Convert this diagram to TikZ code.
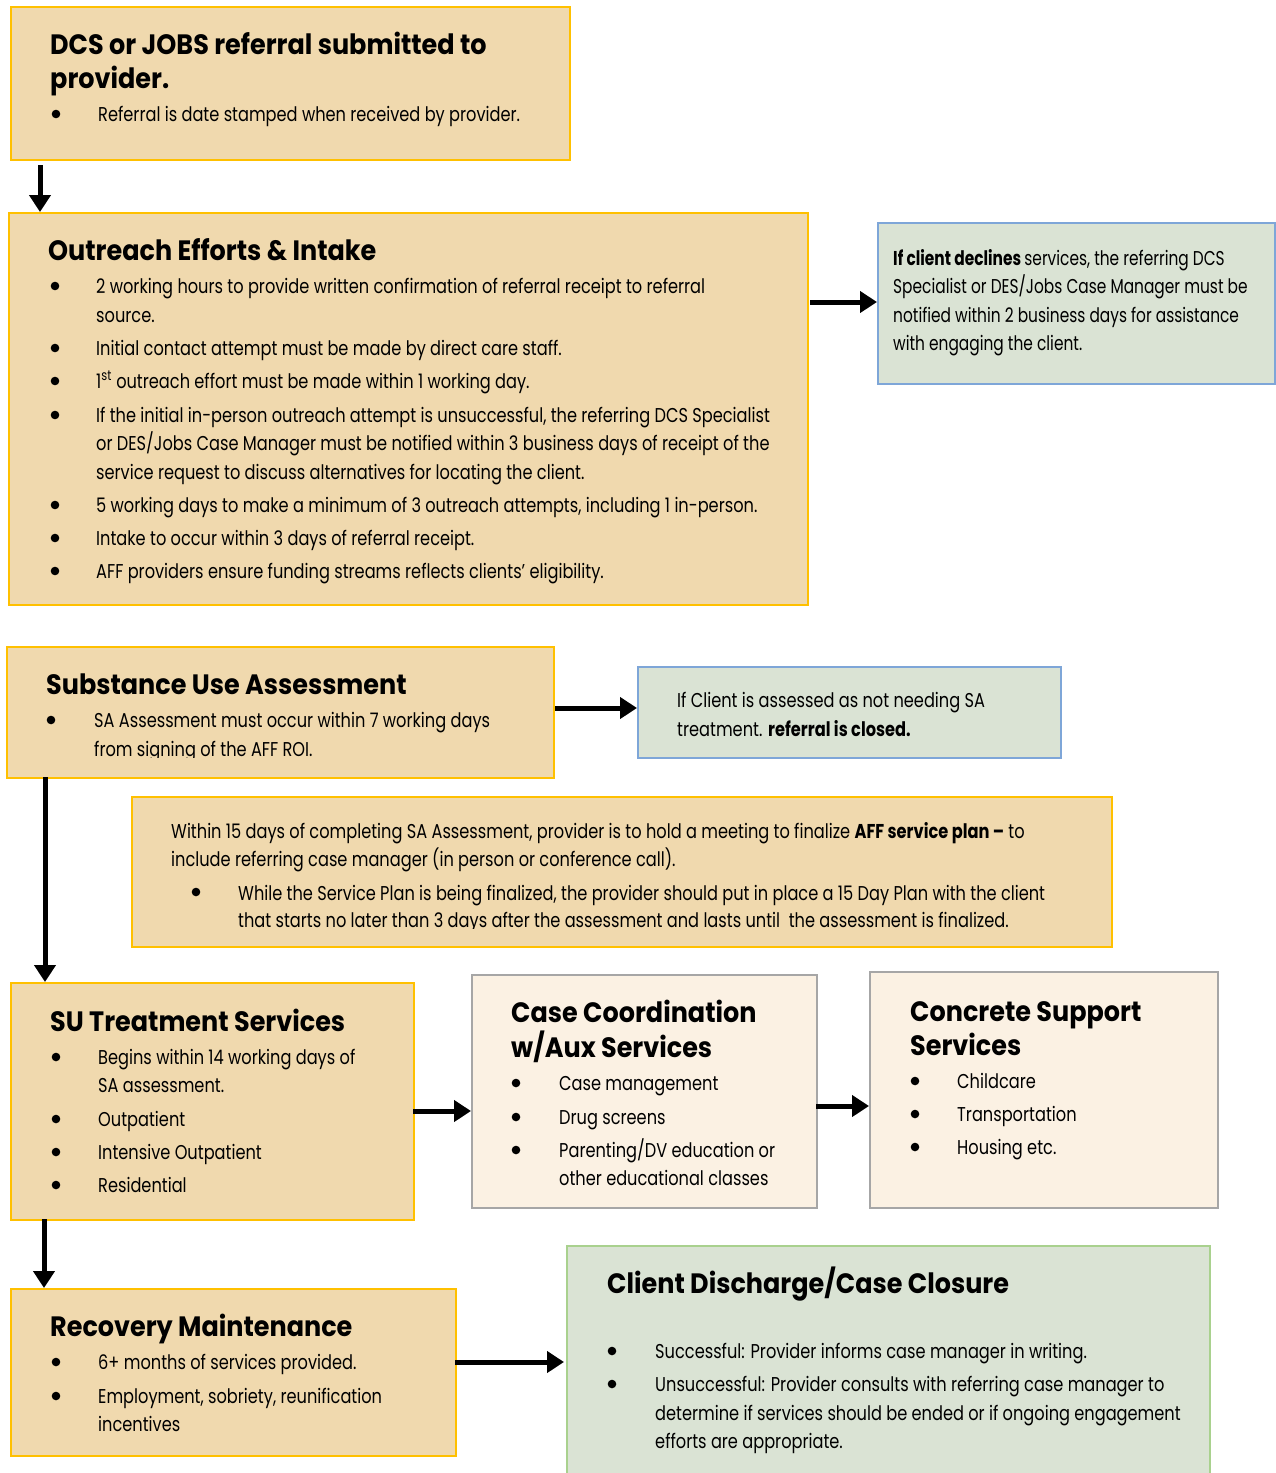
\documentclass[tikz,border=0pt]{standalone}
\usepackage{fontspec}
\usetikzlibrary{arrows.meta}
\newfontfamily\ttlfont{Poppins}[FakeStretch=0.91]
\newfontfamily\bdyfont{Poppins}[FakeStretch=0.81]
\newfontfamily\widefont{Poppins}[FakeStretch=0.77]
\definecolor{tan}{HTML}{F0D9AE}
\definecolor{goldline}{HTML}{FFC000}
\definecolor{sage}{HTML}{DAE3D4}
\definecolor{blueline}{HTML}{7EA6D8}
\definecolor{cream}{HTML}{FBF1E3}
\definecolor{greyline}{HTML}{A6A6A6}
\definecolor{greenline}{HTML}{A9D18E}
\tikzset{
  boxbase/.style={draw, line width=1.5pt, anchor=north west, inner sep=0pt},
  tanbox/.style={boxbase, fill=tan, draw=goldline},
  sagebox/.style={boxbase, fill=sage, draw=blueline},
  creambox/.style={boxbase, fill=cream, draw=greyline},
  greenbox/.style={boxbase, fill=sage, draw=greenline},
  txt/.style={anchor=base west, inner sep=0pt, font=\bdyfont\fontsize{20}{20}\selectfont},
  widetxt/.style={anchor=base west, inner sep=0pt, font=\widefont\fontsize{20}{20}\selectfont},
  ttl/.style={anchor=base west, inner sep=0pt, font=\ttlfont\bfseries\fontsize{28}{28}\selectfont},
  arr/.style={line width=5pt, -{Triangle[width=21pt,length=17pt]}},
}
\newcommand\bline[4]{\node[txt] (#1) at (#2,#3) {#4};}
\newcommand\wline[4]{\node[widetxt] (#1) at (#2,#3) {#4};}
\newcommand\tline[4]{\node[ttl] (#1) at (#2,#3) {#4};}
\newcommand\bulpt[2]{\fill (#1,#2) circle (4.3pt);}
\begin{document}
\begin{tikzpicture}[x=1pt,y=-1pt]
\useasboundingbox (0,0) rectangle (1275,1473);
\fill[white] (0,0) rectangle (1275,1473);
% boxes
\node[tanbox, minimum width=559pt, minimum height=153pt] (A) at (10,6) {};
\node[tanbox, minimum width=799pt, minimum height=392pt] (B) at (8,212) {};
\node[sagebox, minimum width=397pt, minimum height=161pt] (C) at (877,222) {};
\node[tanbox, minimum width=547pt, minimum height=131pt] (D) at (6,646) {};
\node[sagebox, minimum width=423pt, minimum height=91pt] (E) at (637,666) {};
\node[tanbox, minimum width=980pt, minimum height=150pt] (F) at (131,796) {};
\node[tanbox, minimum width=403pt, minimum height=237pt] (G) at (10,982) {};
\node[creambox, minimum width=345pt, minimum height=233pt] (H) at (471,974) {};
\node[creambox, minimum width=348pt, minimum height=236pt] (I) at (869,971) {};
\node[tanbox, minimum width=445pt, minimum height=167pt] (J) at (10,1288) {};
\node[greenbox, minimum width=643pt, minimum height=232pt] (K) at (566,1245) {};
% arrows
\coordinate (a1) at (40,165);
\draw[arr] (a1) -- (a1 |- B.north);
\coordinate (a2) at (810,302);
\draw[arr] (a2) -- (a2 -| C.west);
\coordinate (a3) at (555,708);
\draw[arr] (a3) -- (a3 -| E.west);
\coordinate (a4) at (45,777);
\draw[arr] (a4) -- (a4 |- G.north);
\coordinate (a5) at (413,1111);
\draw[arr] (a5) -- (a5 -| H.west);
\coordinate (a6) at (816,1106);
\draw[arr] (a6) -- (a6 -| I.west);
\coordinate (a7) at (44,1219);
\draw[arr] (a7) -- (a7 |- J.north);
\coordinate (a8) at (455,1362);
\draw[arr] (a8) -- ([xshift=-2pt]a8 -| K.west);
% Box A
\tline{tA1}{50}{54}{DCS or JOBS referral submitted to}
\tline{tA2}{50}{88}{provider.}
\bulpt{56}{114}
\bline{bA1}{98}{121}{Referral is date stamped when received by provider.}
% Box B
\tline{tB1}{48}{260}{Outreach Efforts \& Intake}
\bulpt{55}{286}\bulpt{55}{348}\bulpt{55}{381}\bulpt{55}{415}\bulpt{55}{505}\bulpt{55}{538}\bulpt{55}{571}
\bline{bB1}{96}{293}{2 working hours to provide written confirmation of referral receipt to referral}
\bline{bB2}{96}{322}{source.}
\bline{bB3}{96}{355}{Initial contact attempt must be made by direct care staff.}
\bline{bB4}{96}{388}{1\textsuperscript{st} outreach effort must be made within 1 working day.}
\bline{bB5}{96}{422}{If the initial in-person outreach attempt is unsuccessful, the referring DCS Specialist}
\bline{bB6}{96}{450}{or DES/Jobs Case Manager must be notified within 3 business days of receipt of the}
\bline{bB7}{96}{479}{service request to discuss alternatives for locating the client.}
\bline{bB8}{96}{512}{5 working days to make a minimum of 3 outreach attempts, including 1 in-person.}
\bline{bB9}{96}{545}{Intake to occur within 3 days of referral receipt.}
\bline{bB10}{96}{578}{AFF providers ensure funding streams reflects clients’ eligibility.}
% Box C
\wline{bC1}{893}{265}{\bfseries If client declines \mdseries services, the referring DCS}
\wline{bC2}{893}{293}{Specialist or DES/Jobs Case Manager must be}
\wline{bC3}{893}{322}{notified within 2 business days for assistance}
\wline{bC4}{893}{350}{with engaging the client.}
% Box D
\tline{tD1}{46}{694}{Substance Use Assessment}
\bulpt{51}{720}
\begin{scope}
\clip (6,646) rectangle (553,757);
\bline{bD1}{94}{727}{SA Assessment must occur within 7 working days}
\bline{bD2}{94}{756}{from signing of the AFF ROI.}
\end{scope}
% Box E
\bline{bE1}{677}{707}{If Client is assessed as not needing SA}
\bline{bE2}{677}{736}{treatment. \bfseries referral is closed.}
% Box F
\bline{bF1}{171}{838}{Within 15 days of completing SA Assessment, provider is to hold a meeting to finalize \textbf{AFF service plan –} to}
\bline{bF2}{171}{866}{include referring case manager (in person or conference call).}
\bulpt{196}{892}
\begin{scope}
\clip (131,796) rectangle (1111,928);
\bline{bF3}{238}{900}{While the Service Plan is being finalized, the provider should put in place a 15 Day Plan with the client}
\bline{bF4}{238}{927}{that starts no later than 3 days after the assessment and lasts until\ \ the assessment is finalized.}
\end{scope}
% Box G
\tline{tG1}{50}{1031}{SU Treatment Services}
\bulpt{56}{1057}\bulpt{56}{1119}\bulpt{56}{1152}\bulpt{56}{1185}
\bline{bG1}{98}{1064}{Begins within 14 working days of}
\bline{bG2}{98}{1092}{SA assessment.}
\bline{bG3}{98}{1126}{Outpatient}
\bline{bG4}{98}{1159}{Intensive Outpatient}
\bline{bG5}{98}{1192}{Residential}
% Box H
\tline{tH1}{511}{1022}{Case Coordination}
\tline{tH2}{511}{1057}{w/Aux Services}
\bulpt{516}{1083}\bulpt{516}{1117}\bulpt{516}{1150}
\bline{bH1}{559}{1090}{Case management}
\bline{bH2}{559}{1124}{Drug screens}
\bline{bH3}{559}{1157}{Parenting/DV education or}
\bline{bH4}{559}{1185}{other educational classes}
% Box I
\tline{tI1}{910}{1021}{Concrete Support}
\tline{tI2}{910}{1055}{Services}
\bulpt{915}{1081}\bulpt{915}{1114}\bulpt{915}{1147}
\bline{bI1}{957}{1088}{Childcare}
\bline{bI2}{957}{1121}{Transportation}
\bline{bI3}{957}{1154}{Housing etc.}
% Box J
\tline{tJ1}{50}{1336}{Recovery Maintenance}
\bulpt{56}{1362}\bulpt{56}{1396}
\bline{bJ1}{98}{1369}{6+ months of services provided.}
\bline{bJ2}{98}{1403}{Employment, sobriety, reunification}
\bline{bJ3}{98}{1431}{incentives}
% Box K
\tline{tK1}{607}{1293}{Client Discharge/Case Closure}
\bulpt{612}{1351}\bulpt{612}{1384}
\bline{bK1}{655}{1358}{Successful: Provider informs case manager in writing.}
\bline{bK2}{655}{1391}{Unsuccessful: Provider consults with referring case manager to}
\bline{bK3}{655}{1420}{determine if services should be ended or if ongoing engagement}
\bline{bK4}{655}{1448}{efforts are appropriate.}
\end{tikzpicture}
\end{document}
